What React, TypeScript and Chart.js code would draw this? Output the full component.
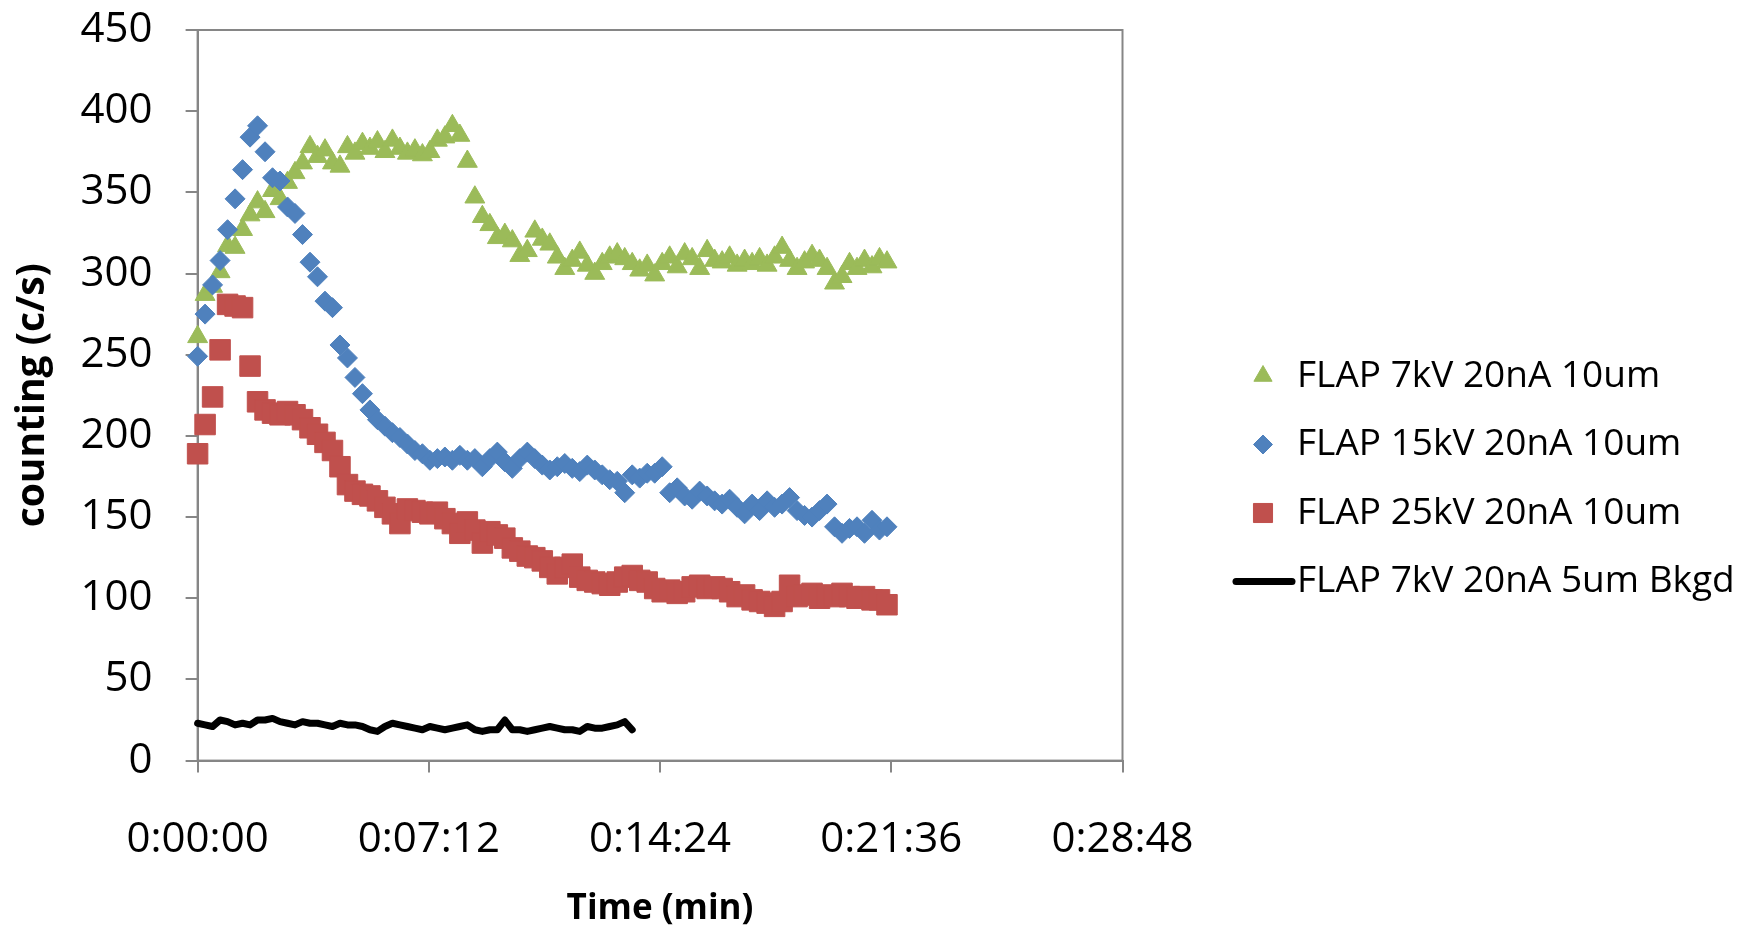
import React, { useEffect, useRef } from "react";
import { Chart, registerables } from "chart.js";
import { drawPoint } from "chart.js/helpers";

Chart.register(...registerables);

// ---------- data ----------
const SAMPLE_INTERVAL_MIN = 14 / 60; // one reading every 14 s

const X_TICKS_MIN = [0, 7.2, 14.4, 21.6, 28.8];
const X_TICK_LABELS = ["0:00:00", "0:07:12", "0:14:24", "0:21:36", "0:28:48"];
const Y_MIN = 0;
const Y_MAX = 450;
const Y_STEP = 50;

const SERIES_LABELS = [
  "FLAP 7kV 20nA 10um",
  "FLAP 15kV 20nA 10um",
  "FLAP 25kV 20nA 10um",
  "FLAP 7kV 20nA 5um Bkgd",
];

const flap7kV10um = [
  261, 287, 292, 301, 317, 316, 327, 336, 344, 338,
  351, 346, 356, 362, 368, 378, 372, 376, 368, 366,
  378, 374, 380, 377, 381, 375, 382, 377, 374, 376,
  373, 375, 382, 384, 391, 385, 369, 347, 335, 330,
  322, 324, 320, 311, 314, 326, 321, 318, 310, 303,
  308, 313, 305, 300, 306, 310, 312, 309, 306, 302,
  305, 299, 306, 310, 304, 312, 309, 303, 314, 308,
  307, 310, 305, 308, 306, 309, 305, 310, 316, 308,
  303, 307, 311, 308, 303, 294, 298, 306, 303, 308,
  304, 309, 307,
];

const flap15kV10um = [
  249, 275, 293, 308, 327, 346, 364, 384, 391, 375,
  359, 357, 341, 337, 324, 307, 298, 283, 279, 256,
  248, 236, 226, 216, 210, 206, 202, 199, 195, 191,
  189, 185, 186, 187, 185, 188, 185, 186, 181, 186,
  190, 184, 180, 186, 190, 186, 182, 179, 181, 183,
  180, 178, 182, 179, 176, 173, 172, 165, 176, 174,
  177, 177, 181, 165, 168, 163, 161, 166, 163, 160,
  158, 161, 156, 152, 158, 154, 160, 156, 158, 162,
  154, 151, 150, 154, 158, 144, 140, 143, 144, 140,
  148, 142, 144,
];

const flap25kV10um = [
  189, 207, 224, 253, 281, 280, 279, 243, 221, 216,
  214, 213, 215, 213, 210, 205, 201, 196, 191, 181,
  170, 166, 164, 163, 160, 156, 152, 146, 155, 154,
  153, 152, 153, 149, 146, 140, 147, 142, 134, 141,
  139, 137, 131, 129, 126, 125, 123, 119, 115, 119,
  121, 113, 111, 110, 109, 108, 110, 113, 114, 111,
  110, 106, 104, 105, 103, 104, 107, 108, 106, 107,
  106, 104, 101, 102, 99, 98, 97, 95, 98, 108,
  101, 102, 103, 100, 102, 101, 103, 101, 100, 101,
  99, 99, 96,
];

const flap7kV5umBkgd = [
  23, 22, 21, 25, 24, 22, 23, 22, 25, 25,
  26, 24, 23, 22, 24, 23, 23, 22, 21, 23,
  22, 22, 21, 19, 18, 21, 23, 22, 21, 20,
  19, 21, 20, 19, 20, 21, 22, 19, 18, 19,
  19, 25, 19, 19, 18, 19, 20, 21, 20, 19,
  19, 18, 21, 20, 20, 21, 22, 24, 19,
];

// ---------- styles ----------
const FONT = '"Open Sans", "Noto Sans", sans-serif';
const AXIS_COLOR = "#868686";
const GREEN = "#9BBB59";
const BLUE = "#4F81BD";
const RED = "#C0504D";
const BLACK = "#000000";

const LEGEND = {
  markerX: 1263,
  textX: 1297,
  lineX0: 1236,
  lineX1: 1292,
  firstY: 376,
  spacing: 68.5,
  fontSize: 37,
};

const toPoints = (values: number[]) =>
  values.map((y, i) => ({ x: i * SAMPLE_INTERVAL_MIN, y }));

const plotBorder = {
  id: "plotBorder",
  beforeDatasetsDraw(chart: any) {
    const { ctx, chartArea } = chart;
    ctx.save();
    ctx.strokeStyle = AXIS_COLOR;
    ctx.lineWidth = 2;
    ctx.strokeRect(
      chartArea.left,
      chartArea.top,
      chartArea.right - chartArea.left,
      chartArea.bottom - chartArea.top
    );
    ctx.restore();
  },
};

const sideLegend = {
  id: "sideLegend",
  afterDraw(chart: any) {
    const ctx = chart.ctx;
    ctx.save();
    chart.data.datasets.forEach((ds: any, i: number) => {
      const y = LEGEND.firstY + i * LEGEND.spacing;
      if (ds.showLine) {
        ctx.strokeStyle = ds.borderColor;
        ctx.lineWidth = ds.borderWidth;
        ctx.lineCap = "round";
        ctx.beginPath();
        ctx.moveTo(LEGEND.lineX0, y);
        ctx.lineTo(LEGEND.lineX1, y);
        ctx.stroke();
      } else {
        ctx.fillStyle = ds.backgroundColor;
        ctx.strokeStyle = ds.borderColor;
        ctx.lineWidth = 1;
        drawPoint(
          ctx,
          { pointStyle: ds.pointStyle, radius: ds.legendRadius, rotation: 0, borderWidth: 1 } as any,
          LEGEND.markerX,
          y
        );
      }
      ctx.fillStyle = "#000";
      ctx.font = `${LEGEND.fontSize}px ${FONT}`;
      ctx.textAlign = "left";
      ctx.textBaseline = "middle";
      ctx.fillText(ds.label, LEGEND.textX, y);
    });
    ctx.restore();
  },
};

export default function App() {
  const canvasRef = useRef<HTMLCanvasElement | null>(null);

  useEffect(() => {
    if (!canvasRef.current) return;
    Chart.defaults.font.family = FONT;

    const chart = new Chart(canvasRef.current, {
      type: "scatter",
      data: {
        datasets: [
          {
            label: SERIES_LABELS[0],
            data: toPoints(flap7kV10um),
            pointStyle: "triangle",
            pointRadius: 11.5,
            legendRadius: 10.5,
            backgroundColor: GREEN,
            borderColor: GREEN,
            borderWidth: 1,
            showLine: false,
            clip: false,
            order: 4,
          } as any,
          {
            label: SERIES_LABELS[1],
            data: toPoints(flap15kV10um),
            pointStyle: "rectRot",
            pointRadius: 10,
            legendRadius: 9.5,
            backgroundColor: BLUE,
            borderColor: BLUE,
            borderWidth: 1,
            showLine: false,
            clip: false,
            order: 3,
          } as any,
          {
            label: SERIES_LABELS[2],
            data: toPoints(flap25kV10um),
            pointStyle: "rect",
            pointRadius: 14.5,
            legendRadius: 13.5,
            backgroundColor: RED,
            borderColor: RED,
            borderWidth: 1,
            showLine: false,
            clip: false,
            order: 2,
          } as any,
          {
            label: SERIES_LABELS[3],
            data: toPoints(flap7kV5umBkgd),
            showLine: true,
            pointRadius: 0,
            borderColor: BLACK,
            backgroundColor: BLACK,
            borderWidth: 7,
            borderJoinStyle: "round",
            borderCapStyle: "round",
            tension: 0,
            clip: false,
            order: 1,
          } as any,
        ],
      },
      options: {
        responsive: false,
        maintainAspectRatio: false,
        animation: false,
        layout: { padding: { left: 0, top: 30, right: 618.5, bottom: 0 } },
        plugins: {
          legend: { display: false },
          tooltip: { enabled: false },
        },
        scales: {
          x: {
            type: "linear",
            min: X_TICKS_MIN[0],
            max: X_TICKS_MIN[X_TICKS_MIN.length - 1],
            afterBuildTicks: (s: any) => {
              s.ticks = X_TICKS_MIN.map((value) => ({ value }));
            },
            afterFit: (s: any) => {
              s.height = 169.4;
              s.paddingLeft = 0;
              s.paddingRight = 0;
            },
            grid: {
              drawOnChartArea: false,
              drawTicks: true,
              tickLength: 12,
              color: AXIS_COLOR,
              lineWidth: 2,
            },
            border: { display: true, color: AXIS_COLOR, width: 2 },
            ticks: {
              callback: (_v: any, i: number) => X_TICK_LABELS[i],
              font: { size: 42 },
              color: "#000",
              padding: 42,
              maxRotation: 0,
              autoSkip: false,
            },
            title: {
              display: true,
              text: "Time (min)",
              font: { size: 35, weight: "bold" },
              color: "#000",
              padding: { top: 0, bottom: 0 },
            },
          },
          y: {
            min: Y_MIN,
            max: Y_MAX,
            afterFit: (s: any) => {
              s.width = 197.6;
              s.paddingTop = 0;
              s.paddingBottom = 0;
            },
            grid: {
              drawOnChartArea: false,
              drawTicks: true,
              tickLength: 12,
              color: AXIS_COLOR,
              lineWidth: 2,
            },
            border: { display: true, color: AXIS_COLOR, width: 2 },
            ticks: {
              stepSize: Y_STEP,
              font: { size: 42 },
              color: "#000",
              padding: 33,
            },
            title: {
              display: true,
              text: "counting (c/s)",
              font: { size: 39, weight: "bold" },
              color: "#000",
              padding: { top: 9, bottom: 0 },
            },
          },
        },
      } as any,
      plugins: [plotBorder, sideLegend],
    });

    return () => chart.destroy();
  }, []);

  return (
    <div
      style={{
        position: "absolute",
        left: 0,
        top: 0,
        width: 1741,
        height: 930,
        background: "#ffffff",
      }}
    >
      <canvas
        ref={canvasRef}
        width={1741}
        height={930}
        style={{ width: 1741, height: 930, display: "block" }}
      />
    </div>
  );
}
